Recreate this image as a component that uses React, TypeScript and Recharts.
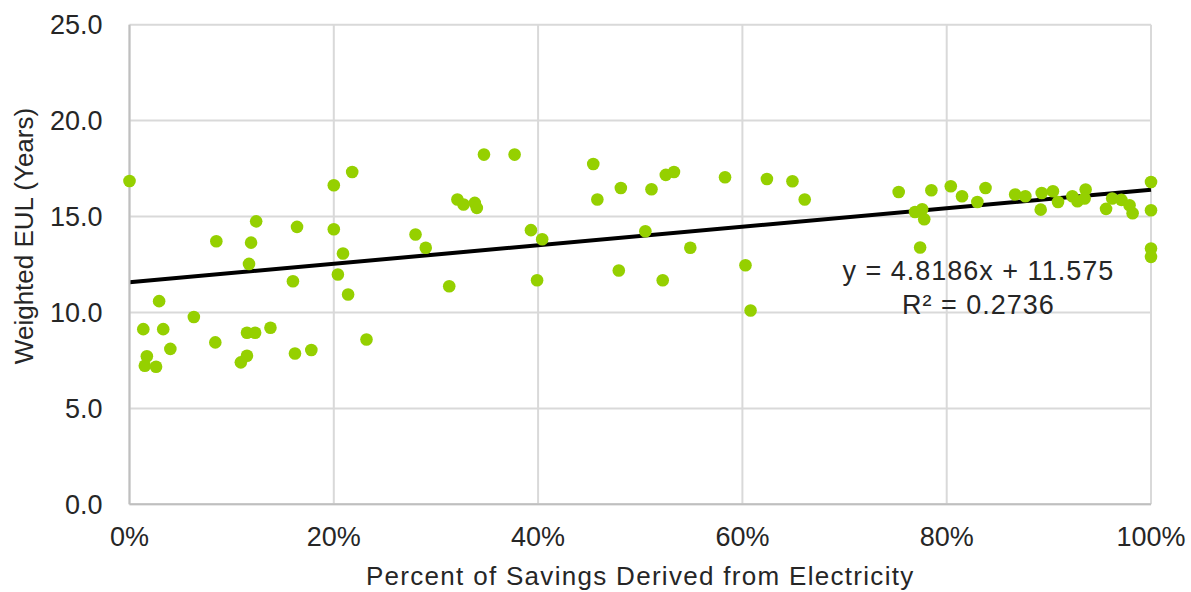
import React from 'react';
import {
  ScatterChart,
  Scatter,
  XAxis,
  YAxis,
  CartesianGrid,
  ReferenceLine,
  ReferenceDot,
} from 'recharts';

// percent of savings from electricity (x) and weighted EUL in years (y)
const savingsPct = [
  0, 20.0, 21.8, 12.4, 8.5, 11.9, 16.4, 20.0, 20.9, 11.7,
  16.0, 20.4, 21.4, 2.9, 6.3, 1.35, 3.3, 4.0, 8.4, 11.5,
  12.3, 13.8, 11.5, 10.9, 1.7, 1.5, 2.6, 16.2, 17.8, 23.2,
  34.7, 37.7, 45.4, 45.8, 48.1, 51.1, 52.5, 53.3, 32.1, 32.7,
  33.8, 34.0, 28.0, 29.0, 31.3, 39.3, 40.4, 39.9, 47.9, 50.5,
  52.2, 58.3, 62.4, 64.9, 66.1, 54.9, 60.3, 60.8, 75.3, 77.4,
  78.5, 80.4, 81.5, 83.8, 83.0, 76.9, 77.6, 77.8, 86.7, 87.7,
  89.3, 90.4, 90.9, 89.2, 92.3, 92.8, 93.6, 93.5, 95.6, 96.2,
  97.1, 97.9, 98.2, 100, 100, 100, 100,
];
const eulYears = [
  16.85, 16.63, 17.32, 14.75, 13.71, 13.64, 14.46, 14.34, 13.07, 12.53,
  11.63, 11.98, 10.94, 10.59, 9.76, 9.13, 9.13, 8.1, 8.44, 8.94,
  8.94, 9.2, 7.74, 7.4, 7.72, 7.22, 7.17, 7.86, 8.04, 8.59,
  18.23, 18.23, 17.74, 15.89, 16.49, 16.42, 17.17, 17.32, 15.89, 15.63,
  15.71, 15.45, 14.06, 13.37, 11.37, 14.29, 13.82, 11.68, 12.19, 14.23,
  11.68, 17.05, 16.96, 16.84, 15.89, 13.37, 12.46, 10.1, 16.28, 13.39,
  16.37, 16.58, 16.06, 16.49, 15.76, 15.24, 15.38, 14.86, 16.15, 16.06,
  16.23, 16.32, 15.76, 15.36, 16.06, 15.8, 16.41, 15.94, 15.4, 15.94,
  15.87, 15.59, 15.17, 16.8, 15.33, 13.33, 12.9,
];

const xTicks = [0, 20, 40, 60, 80, 100];
const yTicks = [0, 5, 10, 15, 20, 25];

// linear trendline fitted by Excel (x as a fraction)
const trendSlope = 4.8186;
const trendIntercept = 11.575;
const trendR2 = 0.2736;

const points = savingsPct.map((x, i) => ({ x, y: eulYears[i] }));

const FONT = 'Arial, "Liberation Sans", sans-serif';
const TEXT = '#262626';
const GREEN = '#95d000';

const Dot = (props: any) => (
  <circle cx={props.cx} cy={props.cy} r={6.3} fill={GREEN} />
);

const YTitle = () => (
  <text
    x={33}
    y={236}
    transform="rotate(-90, 33, 236)"
    textAnchor="middle"
    fontFamily={FONT}
    fontSize={26}
    fill={TEXT}
  >
    Weighted EUL (Years)
  </text>
);

export default function App() {
  return (
    <div style={{ position: 'absolute', left: 0, top: 0, background: '#fff' }}>
      <ScatterChart
        width={1191}
        height={592}
        margin={{ top: 24.7, right: 40, left: 0, bottom: 0 }}
        style={{ fontFamily: FONT }}
      >
        <CartesianGrid stroke="#d9d9d9" strokeWidth={2} />
        <XAxis
          type="number"
          dataKey="x"
          domain={[0, 100]}
          ticks={xTicks}
          tickFormatter={(v: number) => `${v}%`}
          height={87.7}
          tickSize={0}
          tickMargin={23}
          stroke="#bfbfbf"
          strokeWidth={2}
          tick={{ fill: TEXT, fontSize: 27, fontFamily: FONT }}
          label={{
            value: 'Percent of Savings Derived from Electricity',
            position: 'insideBottom',
            offset: 7,
            fill: TEXT,
            fontSize: 26,
            fontFamily: FONT,
            letterSpacing: 1.3,
            style: { letterSpacing: '1.3px' },
          }}
        />
        <YAxis
          type="number"
          dataKey="y"
          domain={[0, 25]}
          ticks={yTicks}
          tickFormatter={(v: number) => v.toFixed(1)}
          width={129.5}
          tickSize={0}
          tickMargin={27}
          stroke="#bfbfbf"
          strokeWidth={2}
          tick={{ fill: TEXT, fontSize: 27, fontFamily: FONT }}
          label={<YTitle />}
        />
        <Scatter data={points} shape={Dot} isAnimationActive={false} />
        <ReferenceLine
          segment={[
            { x: 0, y: trendIntercept },
            { x: 100, y: trendIntercept + trendSlope },
          ]}
          stroke="#000"
          strokeWidth={4}
        />
        <ReferenceDot
          x={83.1}
          y={12.17}
          r={0}
          fill="none"
          stroke="none"
          label={{
            value: `y = ${trendSlope}x + ${trendIntercept}`,
            position: 'center',
            fill: TEXT,
            fontSize: 27,
            fontFamily: FONT,
            letterSpacing: 1,
            style: { letterSpacing: '1px' },
          }}
        />
        <ReferenceDot
          x={83.1}
          y={10.44}
          r={0}
          fill="none"
          stroke="none"
          label={{
            value: `R² = ${trendR2}`,
            position: 'center',
            fill: TEXT,
            fontSize: 27,
            fontFamily: FONT,
            letterSpacing: 1,
            style: { letterSpacing: '1px' },
          }}
        />
      </ScatterChart>
    </div>
  );
}
